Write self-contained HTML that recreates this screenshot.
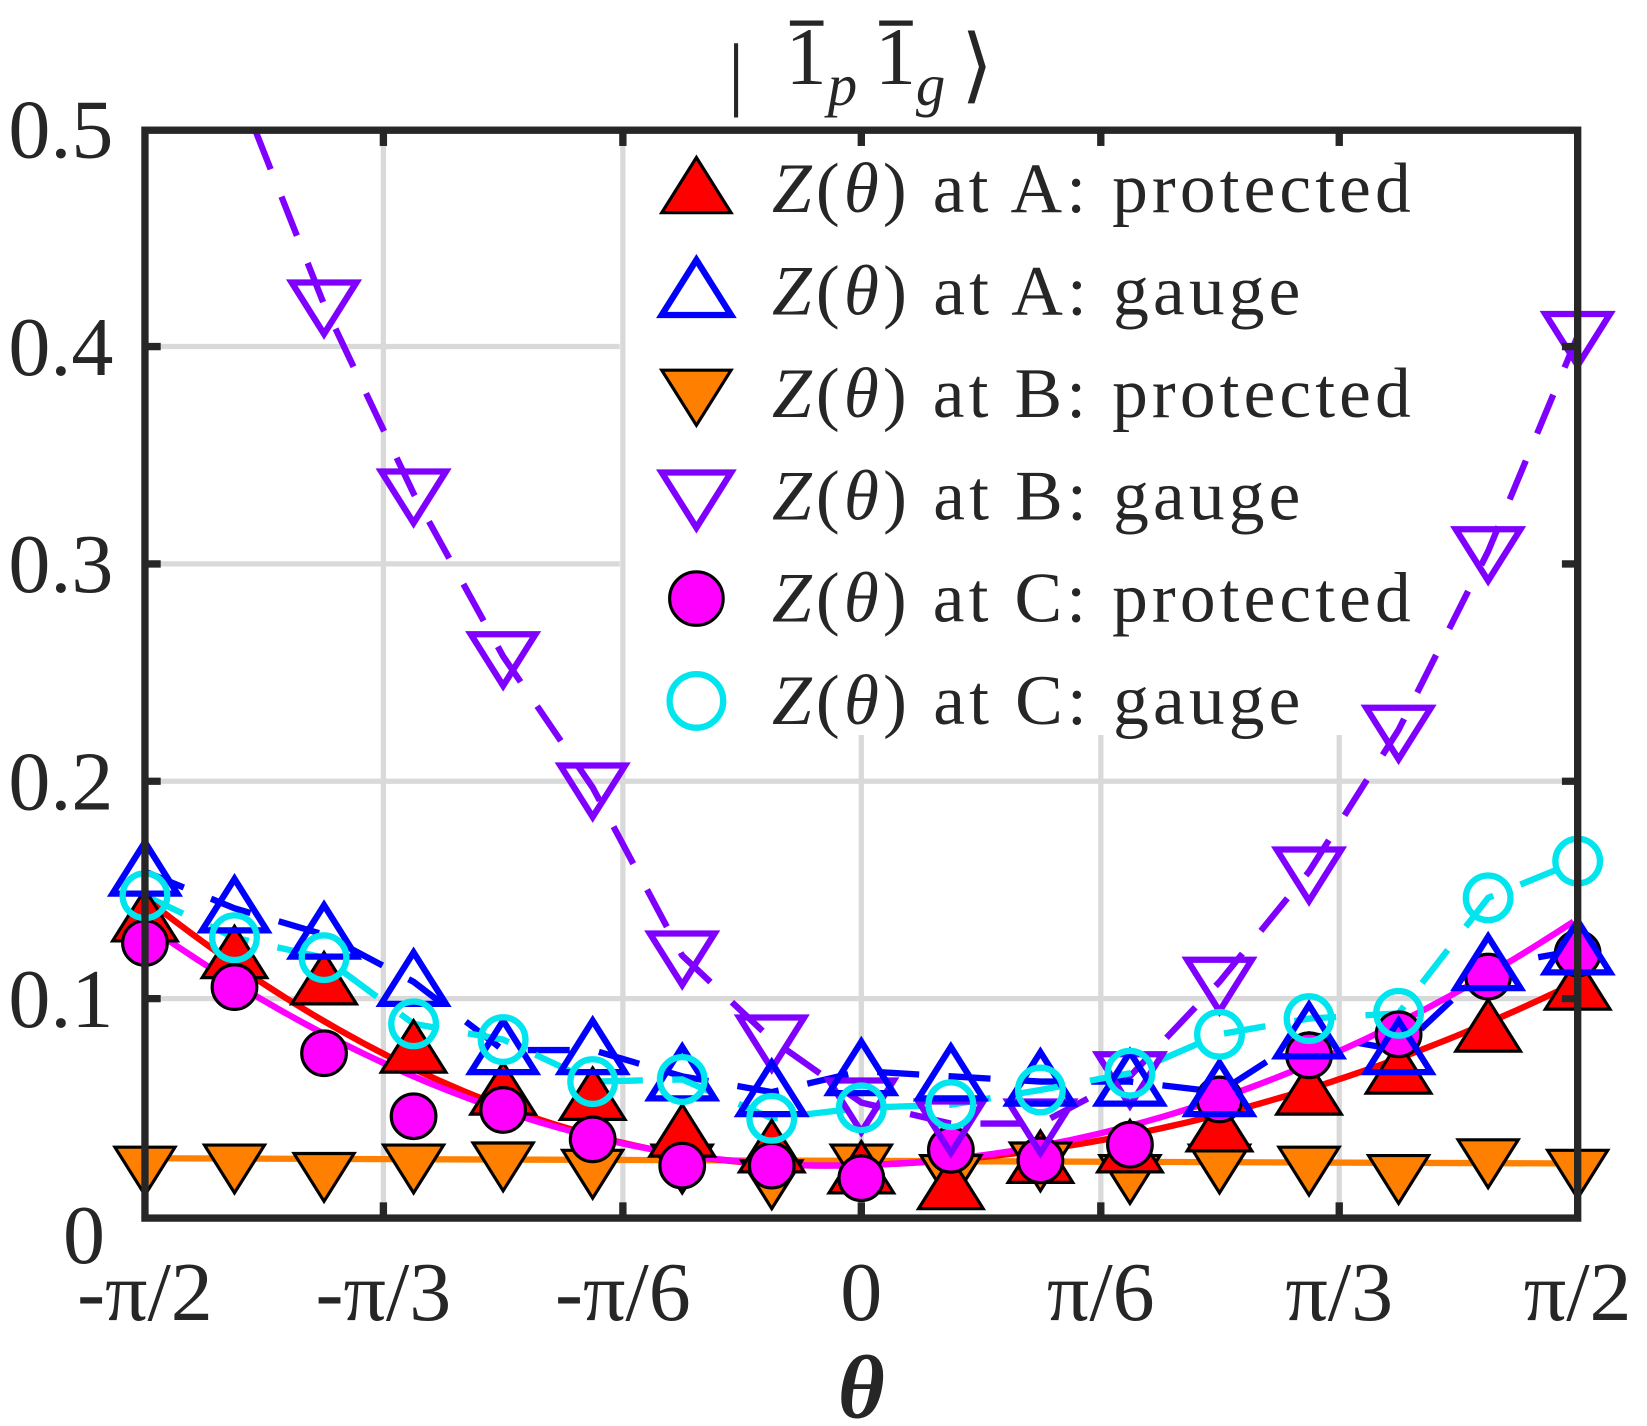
<!DOCTYPE html>
<html><head><meta charset="utf-8"><style>
html,body{margin:0;padding:0;background:#fff;}
svg{display:block;}
text{font-family:"Liberation Serif","DejaVu Serif",serif;fill:#262626;}
</style></head><body>
<svg id="s" width="1647" height="1426" viewBox="0 0 1568 1358" preserveAspectRatio="none" xmlns="http://www.w3.org/2000/svg">
<rect width="1568" height="1358" fill="#fff"/>
<g stroke="#d9d9d9" stroke-width="5">
<line x1="365" y1="124" x2="365" y2="1160"/><line x1="593" y1="124" x2="593" y2="1160"/>
<line x1="820" y1="700" x2="820" y2="1160"/><line x1="1048" y1="700" x2="1048" y2="1160"/><line x1="1275" y1="700" x2="1275" y2="1160"/>
<line x1="138" y1="330" x2="590" y2="330"/><line x1="138" y1="537" x2="590" y2="537"/>
<line x1="138" y1="744" x2="1502" y2="744"/><line x1="138" y1="951" x2="1502" y2="951"/>
</g>
<rect x="598" y="130" width="900" height="570" fill="#fff"/>
<g id="plot"></g>
<rect x="138" y="124" width="1364" height="1036" fill="none" stroke="#262626" stroke-width="7"/>
<g stroke="#262626" stroke-width="7" id="ticks"></g>
<g font-size="80" text-anchor="end">
<text x="108" y="150">0.5</text><text x="108" y="357">0.4</text><text x="108" y="564">0.3</text>
<text x="108" y="771">0.2</text><text x="108" y="978">0.1</text><text x="100" y="1203">0</text>
</g>
<g font-size="80" text-anchor="middle">
<text x="138" y="1257">-π/2</text><text x="365" y="1257">-π/3</text><text x="593" y="1257">-π/6</text>
<text x="820" y="1257">0</text><text x="1048" y="1257">π/6</text><text x="1275" y="1257">π/3</text><text x="1502" y="1257">π/2</text>
</g>
<text x="820" y="1350" font-size="86" font-weight="bold" font-style="italic" text-anchor="middle">θ</text>
<g font-size="78">
<text x="693" y="95">|</text>
<text x="748" y="80">1</text><text x="788" y="100" font-size="56" font-style="italic">p</text>
<text x="833" y="80">1</text><text x="872" y="100" font-size="56" font-style="italic">g</text>
<text x="915" y="88">⟩</text>
</g>
<g stroke="#262626" stroke-width="5"><line x1="752" y1="22" x2="784" y2="22"/><line x1="837" y1="22" x2="869" y2="22"/></g>
<g id="leg"></g>
</svg>
<script>
const NS="http://www.w3.org/2000/svg";
const P=document.getElementById('plot'),L=document.getElementById('leg'),T=document.getElementById('ticks');
function el(p,t,a){const e=document.createElementNS(NS,t);for(const k in a)e.setAttribute(k,a[k]);p.appendChild(e);return e;}
const X=i=>138+i*85.25;
function up(p,x,y,f,s,r){el(p,'polygon',{points:`${x},${y-r} ${x-r*1.1},${y+r*0.75} ${x+r*1.1},${y+r*0.75}`,fill:f,stroke:s,'stroke-width':f=='none'?6:3});}
function dn(p,x,y,f,s,r){el(p,'polygon',{points:`${x},${y+r} ${x-r*1.1},${y-r*0.75} ${x+r*1.1},${y-r*0.75}`,fill:f,stroke:s,'stroke-width':f=='none'?6:3});}
function ci(p,x,y,f,s,r){el(p,'circle',{cx:x,cy:y,r:r*0.85,fill:f,stroke:s,'stroke-width':f=='none'?6:3});}
const purple=[null,null,290,470,625,750,910,990,1050,1070,1070,1025,935,830,695,525,320];
const orange=[1112,1110,1118,1110,1108,1115,1110,1125,1110,1120,1108,1120,1110,1112,1120,1105,1115];
const red=[875,910,935,1000,1040,1045,1080,1095,1115,1130,1105,1095,1075,1040,1020,980,940];
const blue=[830,865,890,935,1000,1000,1025,1040,1020,1025,1030,1030,1040,985,1000,920,905];
const mag=[898,940,1003,1063,1057,1085,1110,1110,1122,1095,1105,1090,1047,1005,985,930,908];
const cyan=[853,893,912,975,990,1030,1028,1065,1055,1052,1038,1022,985,970,965,855,820];
function poly(arr,c,dash,w){let pts=[];arr.forEach((y,i)=>{if(y!=null)pts.push(X(i)+','+y)});if(arr[0]==null)pts.unshift('243,124');el(P,'polyline',{points:pts.join(' '),fill:'none',stroke:c,'stroke-width':w||6,'stroke-dasharray':dash||''});}
function parab(x0,y0,xm,ym,x1,y1,c){let d='';for(let x=x0;x<=x1;x+=8){let y=x<xm?ym+(y0-ym)*((x-xm)/(x0-xm))**2:ym+(y1-ym)*((x-xm)/(x1-xm))**2;d+=(d?'L':'M')+x+','+y;}el(P,'path',{d:d,fill:'none',stroke:c,'stroke-width':6});}
poly(purple,'#7f00ff','40,28');
poly(blue,'#0000ff','40,28');
poly(cyan,'#00e5ee','40,28');
el(P,'line',{x1:138,y1:1103,x2:1502,y2:1108,stroke:'#ff7f00','stroke-width':6});
parab(138,855,780,1110,1502,935,'#ff0000');
parab(138,880,790,1110,1502,875,'#ff00ff');
orange.forEach((y,i)=>dn(P,X(i),y,'#ff7f00','#000',26));
red.forEach((y,i)=>up(P,X(i),y,'#ff0000','#000',28));
mag.forEach((y,i)=>ci(P,X(i),y,'#ff00ff','#000',25));
purple.forEach((y,i)=>{if(y!=null)dn(P,X(i),y,'none','#7f00ff',28)});
blue.forEach((y,i)=>up(P,X(i),y,'none','#0000ff',28));
cyan.forEach((y,i)=>ci(P,X(i),y,'none','#00e5ee',25));
[365,593,820,1048,1275].forEach(x=>{el(T,'line',{x1:x,y1:1160,x2:x,y2:1145});el(T,'line',{x1:x,y1:124,x2:x,y2:139});});
[330,537,744,951].forEach(y=>{el(T,'line',{x1:138,y1:y,x2:153,y2:y});el(T,'line',{x1:1502,y1:y,x2:1487,y2:y});});
const items=[['up','#ff0000','#000','A: protected',608],['up','none','#0000ff','A: gauge',503],['dn','#ff7f00','#000','B: protected',608],['dn','none','#7f00ff','B: gauge',503],['ci','#ff00ff','#000','C: protected',608],['ci','none','#00e5ee','C: gauge',503]];
items.forEach((it,k)=>{const y=180+k*97.5;const f={up,dn,ci}[it[0]];f(L,663,y,it[1],it[2],30);
const t=el(L,'text',{x:735,y:y+22,'font-size':68,textLength:it[4],lengthAdjust:'spacing'});t.innerHTML='<tspan font-style="italic">Z</tspan>(<tspan font-style="italic">θ</tspan>)  at  '+it[3];});
</script>
</body></html>
